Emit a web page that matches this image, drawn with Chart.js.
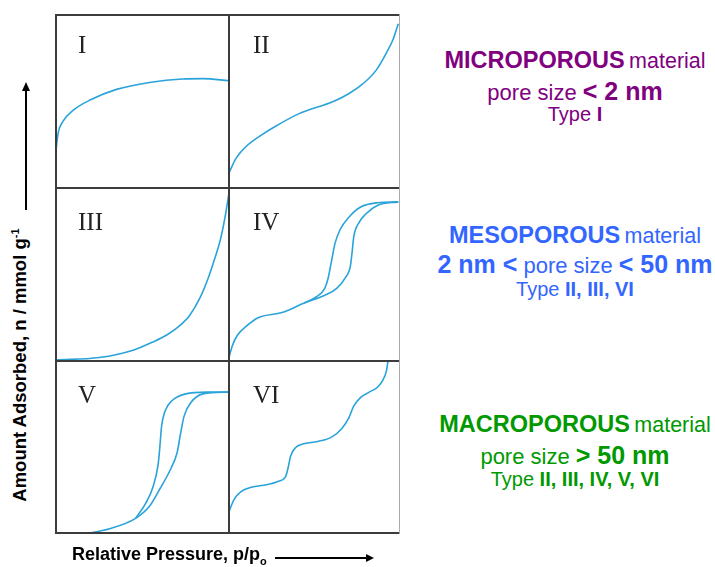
<!DOCTYPE html>
<html lang="en">
<head>
    <meta charset="UTF-8">
    <title>Adsorption Isotherm Types</title>
    <style>
        body { margin: 0; background: #fff; font-family: "Liberation Sans", Arial, sans-serif; }
        #page { position: relative; width: 715px; height: 567px; overflow: hidden; }
        .panel { position: absolute; }
        .panel canvas { position: absolute; left: 0; top: 0; }
        .roman { position: absolute; font-family: "Liberation Serif", "Times New Roman", serif; font-size: 25px; line-height: 25px; color: #222; }
        .hline, .vline { position: absolute; background: #3c3c3c; }
        .txt { position: absolute; left: 425px; width: 300px; text-align: center; line-height: 30px; height: 30px; white-space: nowrap; }
        .big { font-weight: bold; font-size: 23.5px; }
        .reg { font-size: 21.5px; }
        .mid { font-size: 22px; }
        .midb { font-weight: bold; font-size: 25px; }
        .sm { font-size: 20px; }
        .smb { font-size: 20px; font-weight: bold; }
        .purple { color: #800080; }
        .blue { color: #3366ff; }
        .green { color: #009900; }
        .axlabel { position: absolute; font-weight: bold; font-size: 18px; color: #000; white-space: nowrap; }
    </style>
    <script src="https://cdn.jsdelivr.net/npm/chart.js"></script>
</head>
<body>
<div id="page">
    <div id="panels"></div>

    <!-- grid lines -->
    <div class="hline" style="left:55px; top:14px; width:345px; height:2px;"></div>
    <div class="hline" style="left:55px; top:187px; width:345px; height:2px;"></div>
    <div class="hline" style="left:55px; top:360px; width:345px; height:2px;"></div>
    <div class="hline" style="left:55px; top:532px; width:345px; height:2px;"></div>
    <div class="vline" style="left:55px; top:14px; width:2px; height:520px;"></div>
    <div class="vline" style="left:228px; top:14px; width:2px; height:520px;"></div>
    <div class="vline" style="left:399px; top:14px; width:1px; height:520px; background:#aaa;"></div>

    <!-- axis labels -->
    <div class="axlabel" style="left:72px; top:544px;">Relative Pressure, p/p<sub style="font-size:11px;">o</sub></div>
    <div style="position:absolute; left:275px; top:557px; width:92px; height:2px; background:#000;"></div>
    <div style="position:absolute; left:366px; top:554px; width:0; height:0; border-top:4px solid transparent; border-bottom:4px solid transparent; border-left:8px solid #000;"></div>

    <div class="axlabel" style="left:-122px; top:354px; width:284px; text-align:center; transform:rotate(-90deg); transform-origin:center; font-size:18.5px;">Amount Adsorbed, n / mmol g<sup style="font-size:11px;">-1</sup></div>
    <div style="position:absolute; left:25px; top:90px; width:2px; height:120px; background:#000;"></div>
    <div style="position:absolute; left:22px; top:82px; width:0; height:0; border-left:4px solid transparent; border-right:4px solid transparent; border-bottom:9px solid #000;"></div>

    <!-- pore size text -->
    <div class="txt purple" style="top:45px;"><span class="big">MICROPOROUS</span> <span class="reg">material</span></div>
    <div class="txt purple" style="top:76px;"><span class="mid">pore size </span><span class="midb">&lt; 2 nm</span></div>
    <div class="txt purple" style="top:99px;"><span class="sm">Type </span><span class="smb">I</span></div>

    <div class="txt blue" style="top:220px;"><span class="big">MESOPOROUS</span> <span class="reg">material</span></div>
    <div class="txt blue" style="top:249px;"><span class="midb">2 nm &lt;</span><span class="mid"> pore size </span><span class="midb">&lt; 50 nm</span></div>
    <div class="txt blue" style="top:274px;"><span class="sm">Type </span><span class="smb">II, III, VI</span></div>

    <div class="txt green" style="top:409px;"><span class="big">MACROPOROUS</span> <span class="reg">material</span></div>
    <div class="txt green" style="top:440px;"><span class="mid">pore size </span><span class="midb">&gt; 50 nm</span></div>
    <div class="txt green" style="top:464px;"><span class="sm">Type </span><span class="smb">II, III, IV, V, VI</span></div>
</div>

<script>
    // isotherm curves: [relative pressure, amount] both 0..1 inside a panel
    const typeI = [[0, 0.22], [0.013, 0.32], [0.04, 0.385], [0.1, 0.45], [0.2, 0.51], [0.35, 0.57], [0.54, 0.61], [0.73, 0.63], [0.85, 0.632], [1, 0.62]];
    const typeII = [[0, 0.087], [0.04, 0.17], [0.1, 0.24], [0.18, 0.3], [0.26, 0.35], [0.41, 0.43], [0.61, 0.5], [0.7, 0.545], [0.78, 0.6], [0.86, 0.68], [0.92, 0.78], [0.96, 0.86], [0.99, 0.95]];
    const typeIII = [[0, 0.006], [0.25, 0.02], [0.45, 0.064], [0.56, 0.11], [0.64, 0.15], [0.71, 0.2], [0.77, 0.26], [0.83, 0.36], [0.88, 0.48], [0.92, 0.6], [0.95, 0.7], [0.975, 0.82], [1, 0.97]];
    const typeIVads = [[0, 0.02], [0.02, 0.09], [0.05, 0.15], [0.1, 0.2], [0.17, 0.25], [0.31, 0.28], [0.44, 0.335], [0.56, 0.38], [0.63, 0.42], [0.68, 0.48], [0.71, 0.55], [0.72, 0.63], [0.73, 0.72], [0.76, 0.8], [0.8, 0.85], [0.87, 0.9], [0.99, 0.92]];
    const typeIVdes = [[0.44, 0.335], [0.51, 0.37], [0.56, 0.42], [0.58, 0.48], [0.6, 0.58], [0.62, 0.68], [0.65, 0.76], [0.7, 0.83], [0.77, 0.89], [0.87, 0.915], [0.99, 0.92]];
    const typeVads = [[0.16, 0], [0.31, 0.03], [0.46, 0.09], [0.54, 0.16], [0.6, 0.26], [0.66, 0.37], [0.7, 0.47], [0.72, 0.58], [0.74, 0.68], [0.78, 0.76], [0.85, 0.81], [1, 0.82]];
    const typeVdes = [[0.46, 0.09], [0.52, 0.18], [0.56, 0.27], [0.59, 0.4], [0.6, 0.5], [0.61, 0.62], [0.63, 0.71], [0.67, 0.77], [0.75, 0.81], [0.87, 0.82], [1, 0.82]];
    const typeVI = [[0, 0.13], [0.03, 0.2], [0.07, 0.245], [0.13, 0.27], [0.22, 0.285], [0.29, 0.305], [0.33, 0.33], [0.345, 0.38], [0.36, 0.45], [0.39, 0.5], [0.43, 0.52], [0.52, 0.535], [0.6, 0.56], [0.66, 0.61], [0.7, 0.67], [0.73, 0.74], [0.77, 0.79], [0.82, 0.82], [0.87, 0.85], [0.9, 0.89], [0.92, 0.94], [0.93, 1]];

    const panelLabels = ['I', 'II', 'III', 'IV', 'V', 'VI'];
    const panelCurves = [[typeI], [typeII], [typeIII], [typeIVads, typeIVdes], [typeVads, typeVdes], [typeVI]];

    const colLeft = [56, 229];
    const colWidth = [173, 171];
    const rowTop = [15, 188, 361];
    const rowHeight = 173;
    const labelTop = [17, 21, 21];
    const lineColor = '#29a3da';

    const host = document.getElementById('panels');
    const page = document.getElementById('page');

    panelLabels.forEach(function (label, i) {
        const col = i % 2, row = Math.floor(i / 2);
        const div = document.createElement('div');
        div.className = 'panel';
        div.style.left = colLeft[col] + 'px';
        div.style.top = rowTop[row] + 'px';
        div.style.width = colWidth[col] + 'px';
        div.style.height = rowHeight + 'px';
        const canvas = document.createElement('canvas');
        canvas.width = colWidth[col];
        canvas.height = rowHeight;
        canvas.style.width = colWidth[col] + 'px';
        canvas.style.height = rowHeight + 'px';
        div.appendChild(canvas);
        host.appendChild(div);

        const tag = document.createElement('div');
        tag.className = 'roman';
        tag.textContent = label;
        tag.style.left = (colLeft[col] + 22 + col * 2) + 'px';
        tag.style.top = (rowTop[row] + labelTop[row]) + 'px';
        page.appendChild(tag);

        new Chart(canvas.getContext('2d'), {
            type: 'line',
            data: {
                datasets: panelCurves[i].map(function (curve) {
                    return {
                        data: curve.map(function (p) { return { x: p[0], y: p[1] }; }),
                        borderColor: lineColor,
                        borderWidth: 1.6,
                        pointRadius: 0,
                        fill: false,
                        cubicInterpolationMode: 'monotone',
                        clip: false
                    };
                })
            },
            options: {
                responsive: false,
                animation: false,
                layout: { padding: 0 },
                plugins: { legend: { display: false }, tooltip: { enabled: false } },
                scales: {
                    x: { type: 'linear', min: 0, max: 1, display: false },
                    y: { type: 'linear', min: 0, max: 1, display: false }
                }
            }
        });
    });
</script>
</body>
</html>
